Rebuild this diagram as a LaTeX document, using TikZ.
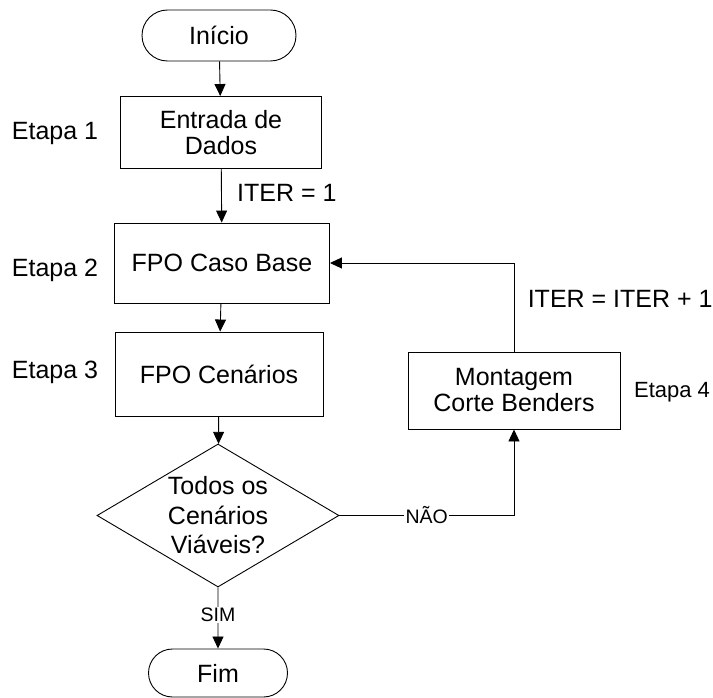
\documentclass[tikz,border=0pt]{standalone}
\usepackage{fontspec}
\setmainfont{Liberation Sans}
\usetikzlibrary{arrows.meta,shapes.geometric,shapes.misc}
\begin{document}
\begin{tikzpicture}[x=1pt,y=-1pt,line width=.9pt,>={Triangle[length=12pt,width=11pt]},
  every node/.style={font=\fontsize{25}{26}\selectfont},
  terminal/.style={rounded rectangle,draw,inner sep=0pt},
  block/.style={rectangle,draw,align=center,inner sep=0pt},
  decision/.style={diamond,draw,inner sep=0pt,minimum width=242pt,minimum height=143pt},
  answer/.style={font=\fontsize{19.5}{22}\selectfont,fill=white,inner sep=1.5pt}]
\useasboundingbox (0,0) rectangle (713,698);
\node[terminal,minimum width=154pt,minimum height=51pt] (ini) at (219,35.5) {Início};
\node[block,minimum width=201pt,minimum height=72pt] (ent) at (221,132.5) {Entrada de\\Dados};
\node[block,minimum width=215pt,minimum height=80pt] (caso) at (222,263) {FPO Caso Base};
\node[block,minimum width=208pt,minimum height=84pt] (cen) at (219,374) {FPO Cenários};
\node[decision] (dec) at (218,515.5) {};
\node[align=center,font=\fontsize{25}{29.5}\selectfont] (dectxt) at (dec) {Todos os\\Cenários\\Viáveis?};
\node[terminal,minimum width=139pt,minimum height=48pt] (fim) at (218,673) {Fim};
\node[block,minimum width=212pt,minimum height=77pt] (mont) at (514,390.5) {Montagem\\Corte Benders};
\foreach \n/\y in {1/133,2/270,3/372}{
 \node (et\n) at (55,\y) {Etapa \n};}
\node[font=\fontsize{22}{24}\selectfont] (et4) at (672,392) {Etapa 4};
\draw[->] (ini) -- (ent);
\draw[->] (ent) -- node[right=12pt,pos=.45] (iter1) {ITER = 1} (caso);
\draw[->] (caso) -- (cen);
\draw[->] (cen) -- (dec);
\draw[->] (dec) -- node[answer,pos=.45] (sim) {SIM} (fim);
\draw[->] (dec.east) -| node[answer,pos=.25] (nao) {NÃO} (mont.south);
\draw[->] (mont.north) |- node[pos=.3,anchor=west,xshift=10pt] (iter2) {ITER = ITER + 1} (caso.east);
\end{tikzpicture}
\end{document}
